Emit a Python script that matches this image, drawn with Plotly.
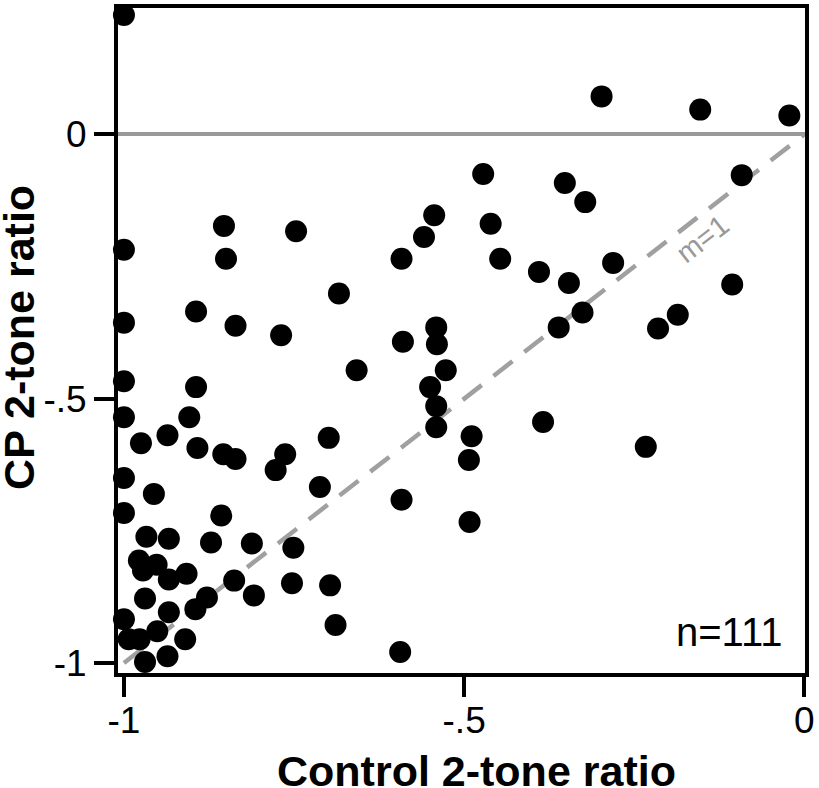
import plotly.graph_objects as go

# Control 2-tone ratio (x) and CP 2-tone ratio (y), one pair per visible unit
control_ratio = [
    -1.000, -0.298, -0.153, -0.022, -0.472, -0.352, -0.092, -0.322, -0.461, -0.544,
    -0.559, -0.447, -0.390, -0.346, -0.281, -0.326, -0.361, -0.106, -0.186, -0.215,
    -0.233, -0.592, -0.747, -0.684, -0.769, -0.590, -0.541, -0.540, -0.527, -0.550,
    -0.541, -0.541, -0.658, -1.000, -0.853, -0.850, -1.000, -0.894, -0.836, -1.000,
    -0.894, -1.000, -0.904, -0.975, -0.936, -0.892, -0.854, -0.836, -0.777, -0.763,
    -0.699, -1.000, -0.956, -0.712, -0.592, -1.000, -0.857, -0.967, -0.934, -0.872,
    -0.812, -0.751, -0.978, -0.972, -0.952, -0.934, -0.908, -0.838, -0.753, -0.697,
    -0.969, -0.934, -0.895, -0.878, -0.809, -0.689, -1.000, -0.993, -0.977, -0.951,
    -0.910, -0.969, -0.936, -0.594, -0.489, -0.493, -0.384, -0.492,
]
cp_ratio = [
    0.226, 0.072, 0.047, 0.036, -0.075, -0.092, -0.077, -0.128, -0.169, -0.153,
    -0.194, -0.235, -0.260, -0.281, -0.243, -0.337, -0.365, -0.284, -0.341, -0.367,
    -0.591, -0.235, -0.183, -0.301, -0.380, -0.392, -0.365, -0.397, -0.446, -0.478,
    -0.514, -0.554, -0.446, -0.218, -0.173, -0.235, -0.356, -0.335, -0.362, -0.467,
    -0.478, -0.535, -0.535, -0.584, -0.569, -0.593, -0.605, -0.614, -0.635, -0.605,
    -0.574, -0.650, -0.680, -0.667, -0.691, -0.716, -0.721, -0.761, -0.765, -0.772,
    -0.774, -0.782, -0.806, -0.825, -0.814, -0.842, -0.831, -0.844, -0.849, -0.853,
    -0.878, -0.904, -0.898, -0.876, -0.872, -0.928, -0.917, -0.955, -0.955, -0.940,
    -0.955, -0.998, -0.987, -0.979, -0.571, -0.616, -0.544, -0.733,
]

unity_x = [-1, 0]
unity_y = [-1, 0]

tick_vals = [-1, -0.5, 0]
tick_text = ["-1", "-.5", "0"]

x_title = "Control 2-tone ratio"
y_title = "CP 2-tone ratio"
n_label = "n=111"
slope_label = "m=1"

FONT = "Liberation Sans, Arial, Helvetica, sans-serif"

fig = go.Figure()

fig.add_trace(go.Scatter(
    x=unity_x, y=unity_y, mode="lines",
    line=dict(color="#a0a0a0", width=4.5, dash="24px,15px"),
    hoverinfo="skip", showlegend=False,
))

fig.add_trace(go.Scatter(
    x=control_ratio, y=cp_ratio, mode="markers",
    marker=dict(color="black", size=22, line=dict(width=0)),
    cliponaxis=False, showlegend=False,
))

axis_common = dict(
    showgrid=False,
    showline=True, linecolor="black", linewidth=4, mirror=True,
    ticks="outside", ticklen=20, tickwidth=4, tickcolor="black",
    tickvals=tick_vals, ticktext=tick_text,
    tickfont=dict(family=FONT, size=37, color="black"),
    ticklabeloverflow="allow",
)

fig.update_xaxes(range=[-1.00873, 0.001], zeroline=False,
                 ticklabelstandoff=-8, **axis_common)
fig.update_yaxes(range=[-1.0188, 0.2392], zeroline=True,
                 zerolinecolor="#999999", zerolinewidth=4, **axis_common)

fig.update_layout(
    width=819, height=788,
    margin=dict(l=118, r=8, t=4, b=115),
    paper_bgcolor="white", plot_bgcolor="white",
    font=dict(family=FONT, color="black"),
    annotations=[
        dict(text=f"<b>{x_title}</b>", xref="paper", yref="paper",
             x=0.522, y=-0.148, xanchor="center", yanchor="middle",
             showarrow=False, font=dict(size=43, color="black")),
        dict(text=f"<b>{y_title}</b>", xref="paper", yref="paper",
             x=-0.144, y=0.504, xanchor="center", yanchor="middle",
             textangle=-90, showarrow=False, font=dict(size=43, color="black")),
        dict(text=n_label, xref="x", yref="y", x=-0.110, y=-0.942,
             xanchor="center", yanchor="middle", showarrow=False,
             font=dict(size=40, color="black")),
        dict(text=slope_label, xref="x", yref="y", x=-0.150, y=-0.198,
             xanchor="center", yanchor="middle", textangle=-37.7,
             showarrow=False, font=dict(size=29, color="#999999")),
    ],
)

fig.write_html("out.html", config={"displayModeBar": False},
               post_script="document.body.style.margin='0';")
